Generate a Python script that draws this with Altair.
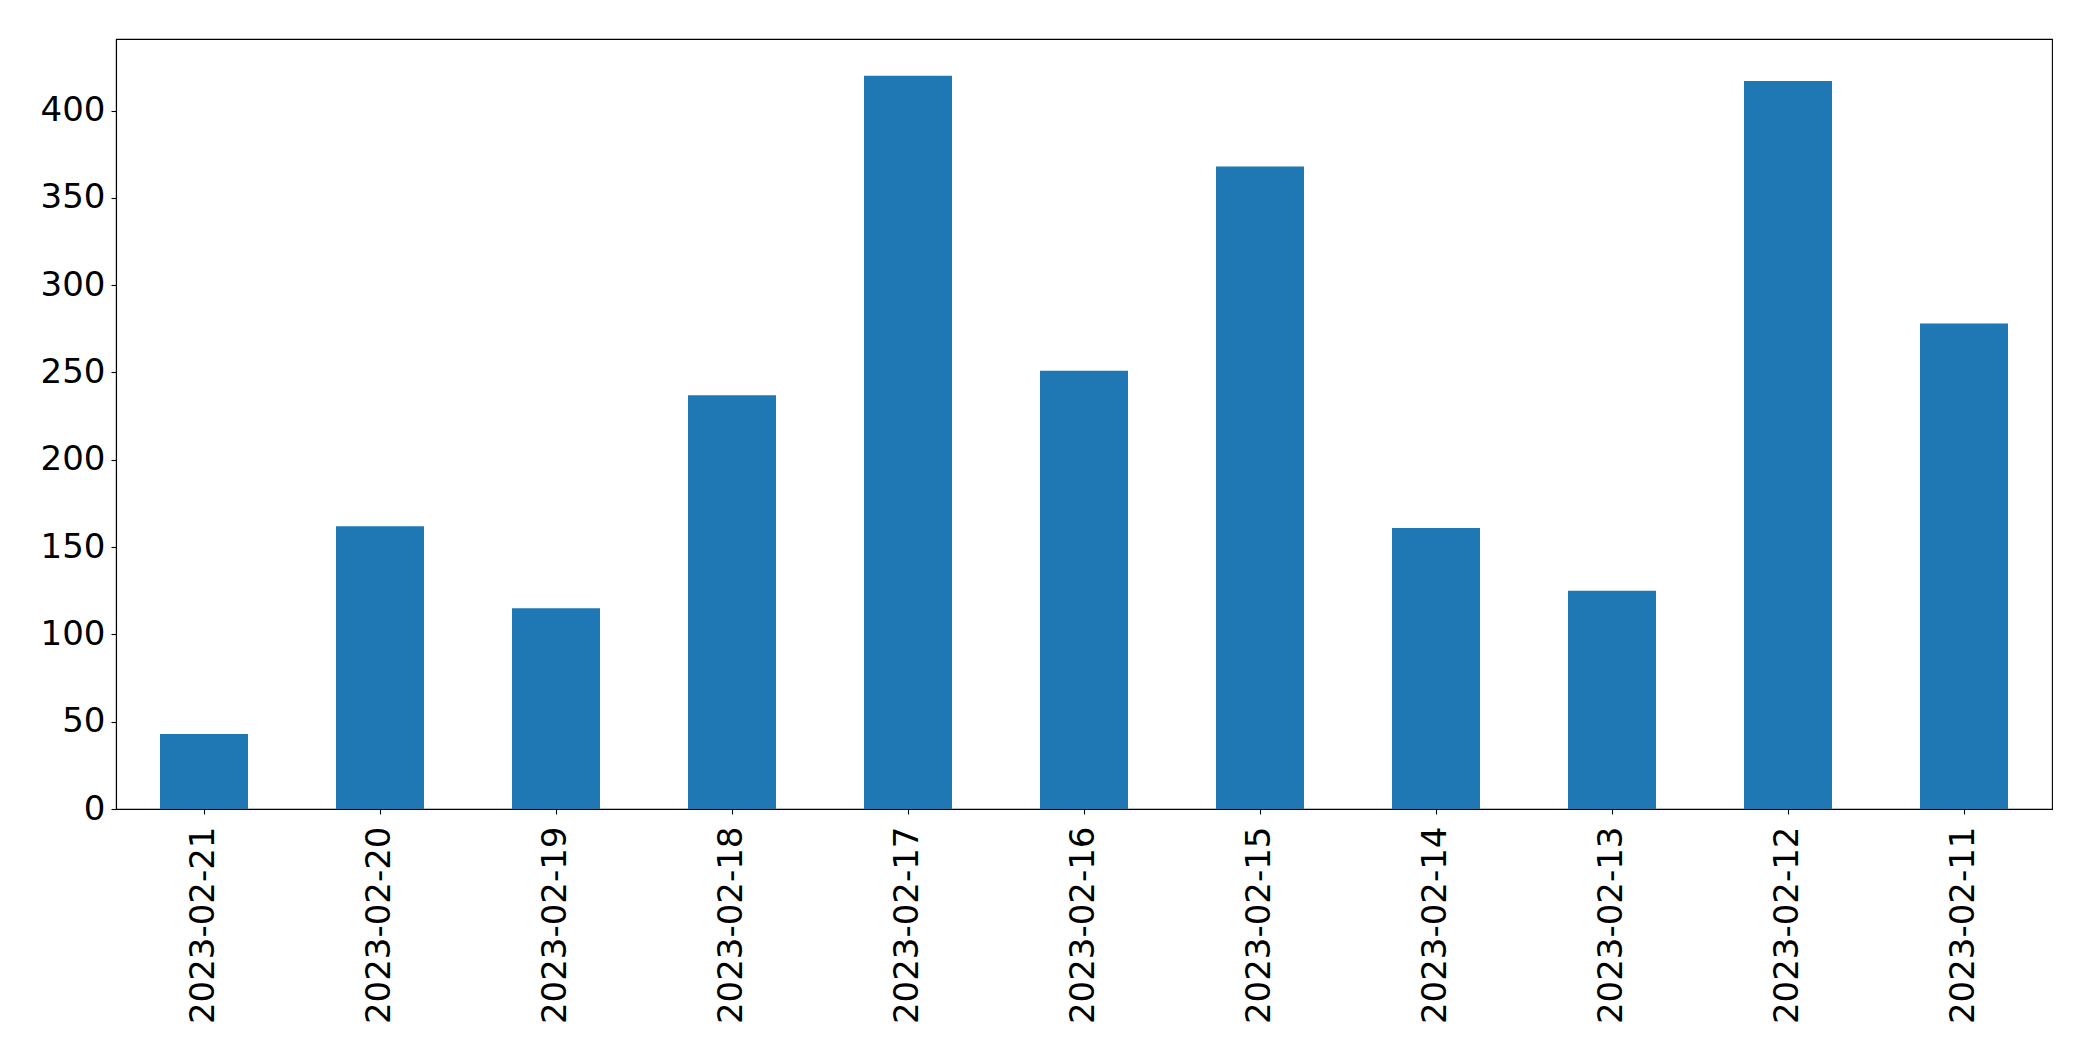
import altair as alt
import pandas as pd

dates = ["2023-02-21", "2023-02-20", "2023-02-19", "2023-02-18", "2023-02-17",
         "2023-02-16", "2023-02-15", "2023-02-14", "2023-02-13", "2023-02-12",
         "2023-02-11"]
values = [43, 162, 115, 237, 420, 251, 368, 161, 125, 417, 278]
y_ticks = [0, 50, 100, 150, 200, 250, 300, 350, 400]

df = pd.DataFrame({"date": dates, "value": values})

FONT = "DejaVu Sans"

chart = alt.Chart(df).mark_bar(color="#1f77b4").encode(
    x=alt.X("date:N", sort=None, title=None,
            scale=alt.Scale(paddingInner=0.5, paddingOuter=0.25),
            axis=alt.Axis(labelAngle=270, labelFontSize=34, labelFont=FONT,
                          labelColor="black", tickColor="black", tickSize=5,
                          tickWidth=1.1, domainColor="black", domainWidth=1.1,
                          labelPadding=12, labelLimit=500, grid=False)),
    y=alt.Y("value:Q", title=None,
            scale=alt.Scale(domain=[0, 441], nice=False, zero=True),
            axis=alt.Axis(values=y_ticks, labelFontSize=34, labelFont=FONT,
                          labelColor="black", tickColor="black", tickSize=5,
                          tickWidth=1.1, domainColor="black", domainWidth=1.1,
                          labelPadding=6, grid=False)),
).properties(
    width=1936,
    height=770,
    autosize=alt.AutoSizeParams(type="none"),
    padding={"left": 108, "top": 31, "right": 30, "bottom": 244},
).configure_view(
    stroke="black", strokeWidth=1.1
)

chart.save("out.html", embed_options={"renderer": "svg", "actions": False})
